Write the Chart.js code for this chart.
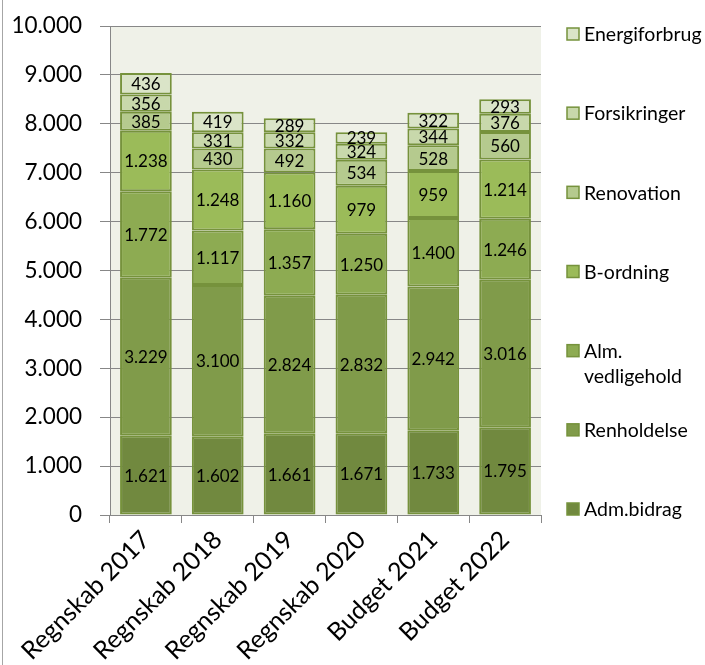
<!DOCTYPE html>
<html>
<head>
<meta charset="utf-8">
<script src="https://cdn.jsdelivr.net/npm/chart.js@4/dist/chart.umd.min.js"></script>
<style>
  body { margin: 0; background: #fff; }
</style>
</head>
<body>
<canvas id="chart" width="705" height="665"></canvas>
<script>
const years = ["Regnskab 2017", "Regnskab 2018", "Regnskab 2019", "Regnskab 2020", "Budget 2021", "Budget 2022"];

const admBidrag = [1621, 1602, 1661, 1671, 1733, 1795];
const renholdelse = [3229, 3100, 2824, 2832, 2942, 3016];
const almVedligehold = [1772, 1117, 1357, 1250, 1400, 1246];
const bOrdning = [1238, 1248, 1160, 979, 959, 1214];
const renovation = [385, 430, 492, 534, 528, 560];
const forsikringer = [356, 331, 332, 324, 344, 376];
const energiforbrug = [436, 419, 289, 239, 322, 293];

const yTicks = [0, 1000, 2000, 3000, 4000, 5000, 6000, 7000, 8000, 9000, 10000];

const FONT = "Lato, 'Open Sans', sans-serif";
const EDGE = "#76923c";
const GRID = "#878787";

function fmt(v) {
  return String(v).replace(/\B(?=(\d{3})+(?!\d))/g, ".");
}

// plot background + left frame line
const background = {
  id: "background",
  beforeDraw(chart) {
    const { ctx, chartArea: a } = chart;
    ctx.save();
    ctx.fillStyle = "#eff1e8";
    ctx.fillRect(a.left, a.top, a.right - a.left, a.bottom - a.top);
    ctx.fillStyle = "#a6a6a6";
    ctx.fillRect(2, 0, 1, chart.height);
    ctx.restore();
  },
};

// value labels in the middle of each segment
const valueLabels = {
  id: "valueLabels",
  afterDatasetsDraw(chart) {
    const ctx = chart.ctx;
    ctx.save();
    ctx.font = "17px " + FONT;
    ctx.fillStyle = "#000";
    ctx.textAlign = "center";
    ctx.textBaseline = "middle";
    chart.data.datasets.forEach((ds, i) => {
      chart.getDatasetMeta(i).data.forEach((bar, j) => {
        ctx.fillText(fmt(ds.data[j]), bar.x, (bar.y + bar.base) / 2 + 1);
      });
    });
    ctx.restore();
  },
};

// legend on the right, top series first, evenly spaced
const sideLegend = {
  id: "sideLegend",
  afterDraw(chart) {
    const ctx = chart.ctx;
    const sets = chart.data.datasets.slice().reverse();
    const top = 34, bottom = 509;
    const step = (bottom - top) / (sets.length - 1);
    const boxX = 567, textX = 584, maxW = chart.width - textX;
    ctx.save();
    ctx.font = "19.5px " + FONT;
    ctx.textBaseline = "middle";
    sets.forEach((ds, i) => {
      const y = top + i * step;
      ctx.fillStyle = ds.backgroundColor;
      ctx.fillRect(boxX, y - 6, 12, 12);
      ctx.strokeStyle = EDGE;
      ctx.lineWidth = 1.5;
      ctx.strokeRect(boxX, y - 6, 12, 12);
      ctx.fillStyle = "#000";
      let lines = [ds.label];
      if (ctx.measureText(ds.label).width > maxW) {
        const k = ds.label.indexOf(" ");
        lines = [ds.label.slice(0, k), ds.label.slice(k + 1)];
      }
      lines.forEach((t, n) => ctx.fillText(t, textX, y + 1 + n * 25));
    });
    ctx.restore();
  },
};

function series(label, data, color) {
  return {
    label,
    data,
    backgroundColor: color,
    borderColor: EDGE,
    borderWidth: 2,
    borderSkipped: false,
  };
}

new Chart(document.getElementById("chart"), {
  type: "bar",
  data: {
    labels: years,
    datasets: [
      series("Adm.bidrag", admBidrag, "#71893f"),
      series("Renholdelse", renholdelse, "#809b4a"),
      series("Alm. vedligehold", almVedligehold, "#8dab52"),
      series("B-ordning", bOrdning, "#9bbb59"),
      series("Renovation", renovation, "#b5ca8e"),
      series("Forsikringer", forsikringer, "#c8d8ab"),
      series("Energiforbrug", energiforbrug, "#dae4c8"),
    ],
  },
  options: {
    responsive: false,
    devicePixelRatio: 1,
    animation: false,
    layout: { padding: { top: 26, right: 164, left: 0, bottom: 0 } },
    plugins: {
      legend: { display: false },
      tooltip: { enabled: false },
    },
    scales: {
      x: {
        stacked: true,
        categoryPercentage: 1,
        barPercentage: 0.667,
        grid: { offset: true, drawOnChartArea: false, color: GRID, tickLength: 8 },
        border: { color: GRID },
        ticks: {
          color: "#000",
          font: { family: FONT, size: 25 },
          minRotation: 45,
          maxRotation: 45,
          autoSkip: false,
          padding: 2,
        },
        afterFit(scale) {
          scale.height = 150;
          scale.paddingLeft = 0;
          scale.paddingRight = 0;
        },
      },
      y: {
        stacked: true,
        min: 0,
        max: 10000,
        afterBuildTicks(scale) { scale.ticks = yTicks.map((v) => ({ value: v })); },
        grid: { color: GRID, tickLength: 10 },
        border: { color: GRID },
        ticks: {
          color: "#000",
          font: { family: FONT, size: 22.5 },
          padding: 18,
          callback: (v) => fmt(v),
        },
        afterFit(scale) {
          scale.width = 110;
          scale.paddingTop = 0;
          scale.paddingBottom = 0;
        },
      },
    },
  },
  plugins: [background, valueLabels, sideLegend],
});
</script>
</body>
</html>
